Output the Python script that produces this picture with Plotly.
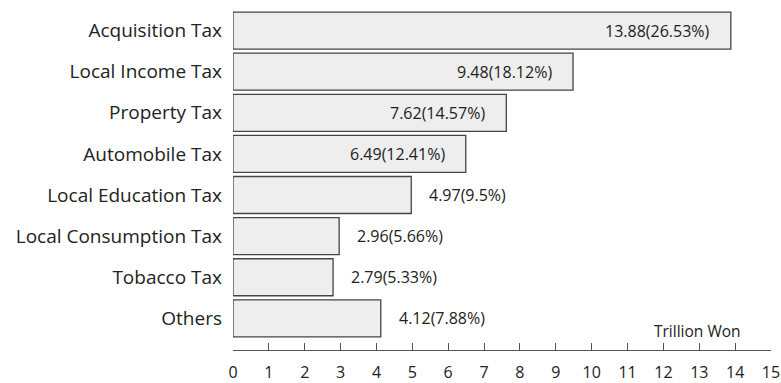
import plotly.graph_objects as go

categories = ["Acquisition Tax", "Local Income Tax", "Property Tax", "Automobile Tax",
              "Local Education Tax", "Local Consumption Tax", "Tobacco Tax", "Others"]
values = [13.88, 9.48, 7.62, 6.49, 4.97, 2.96, 2.79, 4.12]
shares = ["26.53%", "18.12%", "14.57%", "12.41%", "9.5%", "5.66%", "5.33%", "7.88%"]
inside_labels = [True, True, True, True, False, False, False, False]
x_ticks = list(range(0, 16))
unit_label = "Trillion Won"

FONT = "Open Sans"

fig = go.Figure(go.Bar(
    x=values,
    y=categories,
    orientation="h",
    width=0.9,
    marker=dict(color="#eeeeee", line=dict(color="#444444", width=1.3)),
    hoverinfo="skip",
))

# value labels: inside the end of long bars, just past the end of short ones
for cat, val, share, inside in zip(categories, values, shares, inside_labels):
    fig.add_annotation(
        x=val, y=cat, xref="x", yref="y",
        text=f"{val:g}({share})",
        showarrow=False,
        xanchor="right" if inside else "left",
        xshift=-19 if inside else 16,
        font=dict(family=FONT, size=16, color="#222222"),
    )

fig.add_annotation(
    x=12.95, y=7.3, xref="x", yref="y",
    text=unit_label, showarrow=False,
    font=dict(family=FONT, size=15.5, color="#222222"),
)

fig.update_layout(
    width=781, height=383,
    margin=dict(l=233, r=10, t=10, b=33),
    paper_bgcolor="white", plot_bgcolor="white",
    showlegend=False,
    font=dict(family=FONT, color="#222222"),
)
fig.update_xaxes(
    range=[0, 15], tickvals=x_ticks, ticktext=[str(t) for t in x_ticks],
    showgrid=False, zeroline=False, automargin=False,
    showline=True, linecolor="#555555", linewidth=1,
    ticks="inside", ticklen=7, tickcolor="#555555", tickwidth=1,
    ticklabelstandoff=8,
    tickfont=dict(family=FONT, size=16, color="#222222"),
)
fig.update_yaxes(
    type="category", categoryorder="array", categoryarray=categories,
    range=[7.77, -0.5], automargin=False,
    showgrid=False, zeroline=False, showline=False, ticks="",
    ticklabelstandoff=10,
    tickfont=dict(family=FONT, size=19, color="#222222"),
)

fig.write_html("out.html")
